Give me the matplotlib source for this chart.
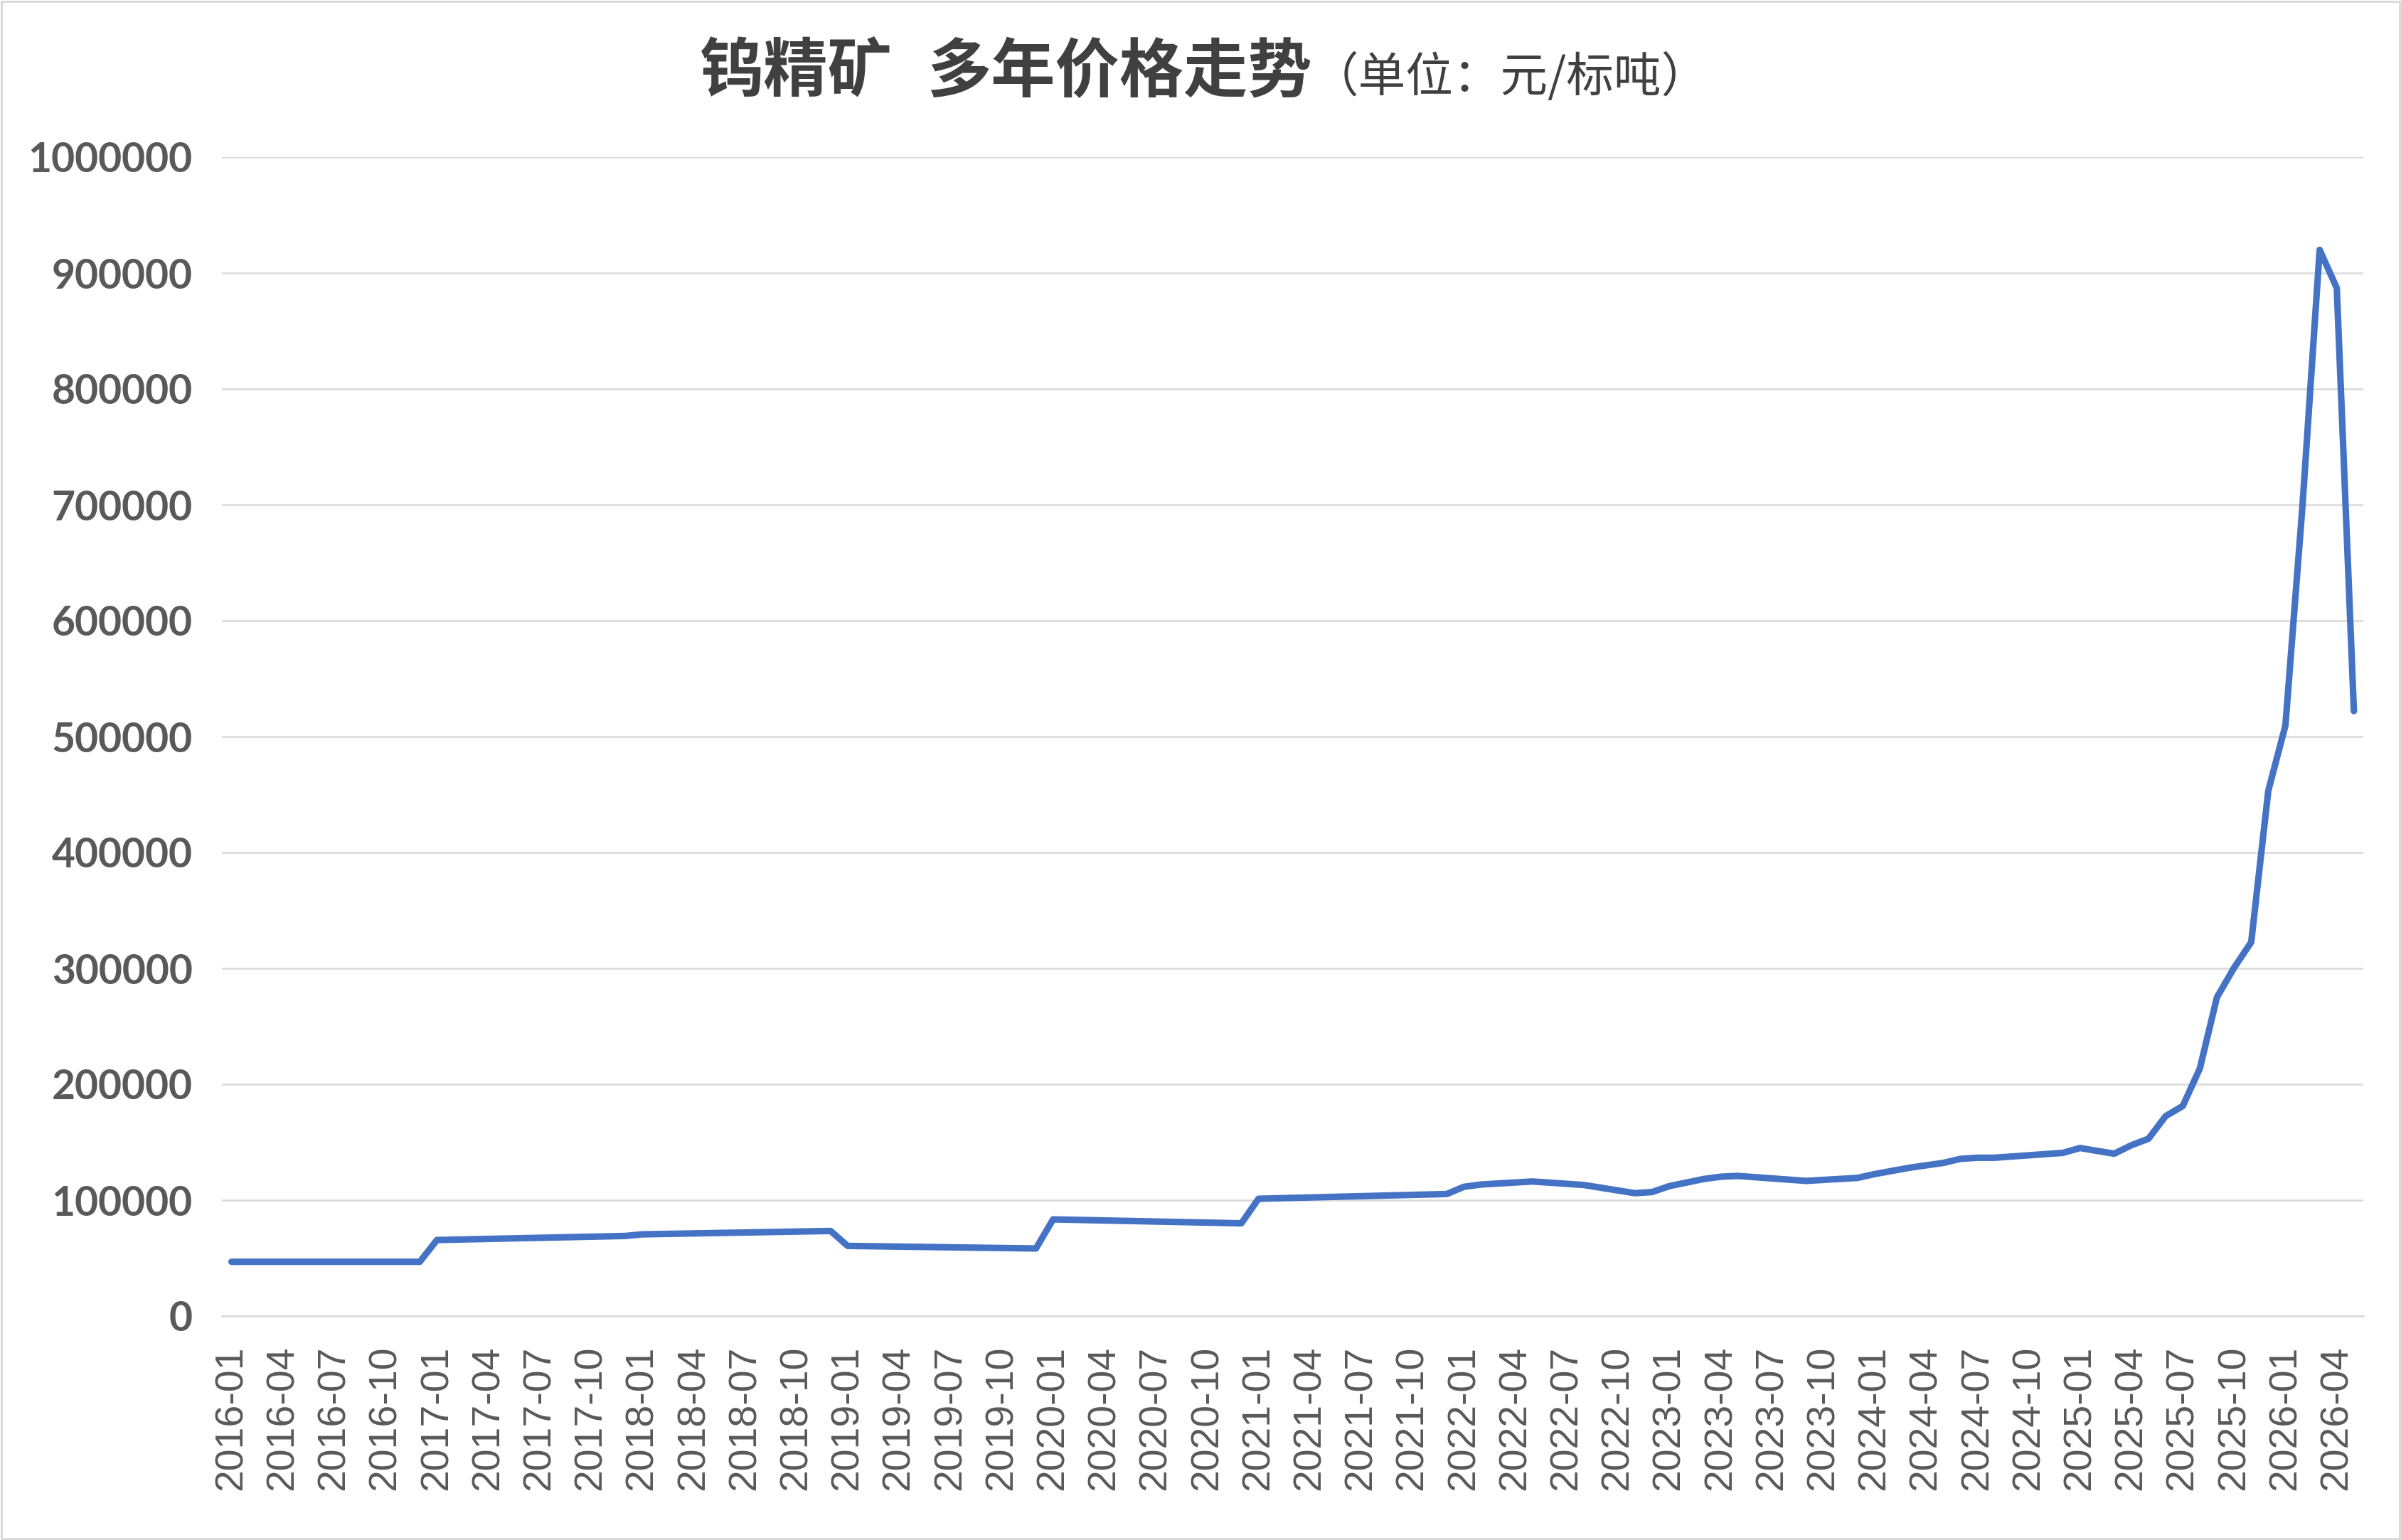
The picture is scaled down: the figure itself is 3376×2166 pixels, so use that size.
import matplotlib
matplotlib.use("Agg")
import matplotlib.pyplot as plt
from matplotlib.patches import Rectangle

# ---- data ----
dates = ["2016-01", "2016-12", "2017-01", "2017-12", "2018-01", "2018-12",
         "2019-01", "2019-12", "2020-01", "2020-12", "2021-01", "2021-12",
         "2022-01", "2022-02", "2022-05", "2022-08", "2022-11", "2022-12",
         "2023-01", "2023-03", "2023-04", "2023-05", "2023-09", "2023-12",
         "2024-01", "2024-03", "2024-05", "2024-06", "2024-07", "2024-08",
         "2024-12", "2025-01", "2025-02", "2025-03", "2025-04", "2025-05",
         "2025-06", "2025-07", "2025-08", "2025-09", "2025-10", "2025-11",
         "2025-12", "2026-01", "2026-02", "2026-03", "2026-04", "2026-05"]
prices = [46800, 46800, 65600, 69100, 70500, 73400,
          60500, 58300, 83400, 80000, 101200, 105300,
          111500, 113500, 116100, 113100, 106000, 107000,
          112100, 118200, 120200, 120900, 116600, 119200,
          122500, 127900, 132100, 135600, 136600, 136600,
          140800, 145000, 142500, 140100, 147400, 153000,
          172500, 181200, 213600, 275100, 300500, 322600,
          453300, 509600, 700000, 920000, 887000, 522000]
start_year, start_month = 2016, 1
n_months = 125  # 2016-01 .. 2026-05
tick_step = 3
y_ticks = [0, 100000, 200000, 300000, 400000, 500000,
           600000, 700000, 800000, 900000, 1000000]
title_part1 = "钨精矿"
title_part2 = "多年价格走势"
title_unit = "（单位：元/标吨）"


def month_index(s):
    y, m = s.split("-")
    return (int(y) - start_year) * 12 + (int(m) - start_month)


x = [month_index(d) for d in dates]
tick_pos = list(range(0, n_months, tick_step))
tick_labels = ["%d-%02d" % (start_year + (start_month - 1 + i) // 12,
                            (start_month - 1 + i) % 12 + 1) for i in tick_pos]

W, H, DPI = 3376, 2166, 200
fig = plt.figure(figsize=(W / DPI, H / DPI), dpi=DPI)
fig.patch.set_facecolor("white")

left, right, top, bottom = 312.3, 3323, 221, 1851
ax = fig.add_axes([left / W, 1 - bottom / H, (right - left) / W, (bottom - top) / H])

ax.plot(x, prices, color="#4472C4", lw=3.3, solid_capstyle="round",
        solid_joinstyle="round", zorder=3)

ax.set_xlim(-0.55, n_months - 0.45)
ax.set_ylim(0, 1000000)
ax.set_yticks(y_ticks)
ax.set_yticklabels([str(v) for v in y_ticks], fontsize=20.5, fontweight="bold",
                   color="#595959", family=["Lato", "DejaVu Sans"])
ax.set_xticks(tick_pos)
ax.set_xticklabels(tick_labels, rotation=90, fontsize=20, color="#595959",
                   family=["Liberation Sans", "DejaVu Sans"])
ax.tick_params(axis="x", length=0, pad=15)
ax.tick_params(axis="y", length=0, pad=15)

ax.grid(axis="y", color="#D9D9D9", lw=0.9, zorder=0)
ax.set_axisbelow(True)
for s in ["left", "right", "top"]:
    ax.spines[s].set_visible(False)
ax.spines["bottom"].set_color("#D9D9D9")
ax.spines["bottom"].set_linewidth(0.9)

# title
cjk = ["Noto Sans CJK SC", "DejaVu Sans"]
base_y = 1 - 129 / H
fig.text(984 / W, base_y, title_part1, fontsize=32.5, fontweight="bold",
         color="#404040", family=cjk, ha="left", va="baseline")
fig.text(1303 / W, base_y, title_part2, fontsize=32.5, fontweight="bold",
         color="#404040", family=cjk, ha="left", va="baseline")
fig.text(1844 / W, base_y, title_unit, fontsize=24,
         color="#404040", family=cjk, ha="left", va="baseline")

# figure border
fig.patches.append(Rectangle((0.0005, 0.0008), 0.999, 0.9984, transform=fig.transFigure,
                             fill=False, edgecolor="#D9D9D9", lw=1.0))

fig.savefig("out.png", dpi=DPI, facecolor="white")
